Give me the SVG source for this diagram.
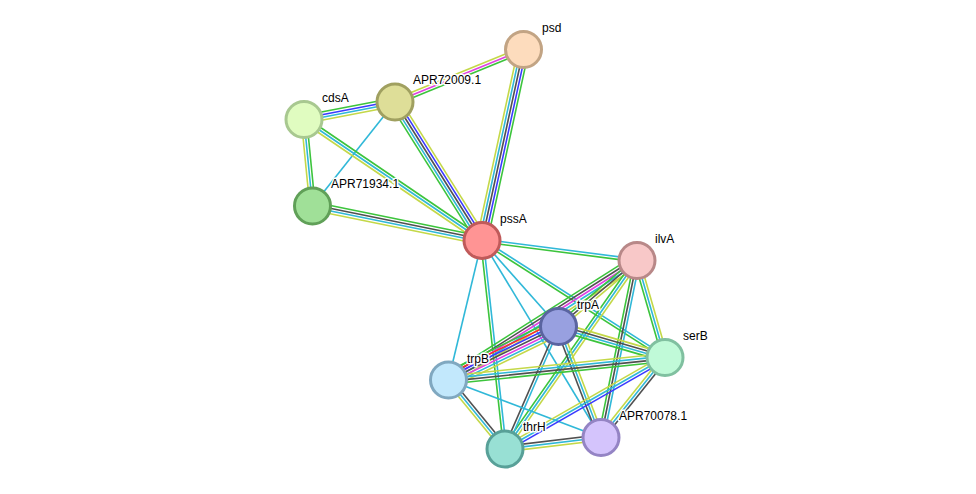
<svg xmlns="http://www.w3.org/2000/svg" width="976" height="494" viewBox="0 0 976 494">
<style>
line{stroke-width:1.6;fill:none}
.G{stroke:#3cc43c}.B{stroke:#3a3aff}.C{stroke:#30b8d8}.Y{stroke:#c4d848}.K{stroke:#505050}.M{stroke:#e040e0}.R{stroke:#ff2a2a}
.n circle{stroke-width:3}
.n text{font-family:"Liberation Sans",Arial,sans-serif;font-size:12px;fill:#000;stroke:#fff;stroke-width:3;paint-order:stroke;stroke-linejoin:round}
</style>
<rect width="976" height="494" fill="#fff"/>
<g id="connectors">
<g transform="translate(523.5,49.5) rotate(157.78)"><line class="Y" x2="138.8" y1="2.7" y2="2.7"/><line class="M" x2="138.8"/><line class="G" x2="138.8" y1="-2.7" y2="-2.7"/></g>
<g transform="translate(523.5,49.5) rotate(102.26)"><line class="Y" x2="195.5" y1="5.4" y2="5.4"/><line class="C" x2="195.5" y1="2.7" y2="2.7"/><line class="K" x2="195.5"/><line class="B" x2="195.5" y1="-2.7" y2="-2.7"/><line class="G" x2="195.5" y1="-5.4" y2="-5.4"/></g>
<g transform="translate(395,102) rotate(169.11)"><line class="G" x2="92.7" y1="4.05" y2="4.05"/><line class="B" x2="92.7" y1="1.35" y2="1.35"/><line class="C" x2="92.7" y1="-1.35" y2="-1.35"/><line class="Y" x2="92.7" y1="-4.05" y2="-4.05"/></g>
<g transform="translate(395,102) rotate(57.87)"><line class="G" x2="163.6" y1="5.4" y2="5.4"/><line class="C" x2="163.6" y1="2.7" y2="2.7"/><line class="K" x2="163.6"/><line class="B" x2="163.6" y1="-2.7" y2="-2.7"/><line class="Y" x2="163.6" y1="-5.4" y2="-5.4"/></g>
<g transform="translate(395,102) rotate(128.42)"><line class="C" x2="132.7"/></g>
<g transform="translate(304,119.5) rotate(84.39)"><line class="Y" x2="86.9" y1="2.7" y2="2.7"/><line class="C" x2="86.9"/><line class="G" x2="86.9" y1="-2.7" y2="-2.7"/></g>
<g transform="translate(304,119.5) rotate(34.21)"><line class="G" x2="215.2" y1="-2.7" y2="-2.7"/><line class="C" x2="215.2"/><line class="Y" x2="215.2" y1="2.7" y2="2.7"/></g>
<g transform="translate(312.5,206) rotate(11.5)"><line class="G" x2="173" y1="-4.05" y2="-4.05"/><line class="K" x2="173" y1="-1.35" y2="-1.35"/><line class="C" x2="173" y1="1.35" y2="1.35"/><line class="Y" x2="173" y1="4.05" y2="4.05"/></g>
<g transform="translate(482,240.5) rotate(7.35)"><line class="C" x2="156.3" y1="-1.35" y2="-1.35"/><line class="G" x2="156.3" y1="1.35" y2="1.35"/></g>
<g transform="translate(482,240.5) rotate(48.34)"><line class="C" x2="115.1"/></g>
<g transform="translate(482,240.5) rotate(32.59)"><line class="C" x2="217.2" y1="-1.35" y2="-1.35"/><line class="G" x2="217.2" y1="1.35" y2="1.35"/></g>
<g transform="translate(482,240.5) rotate(58.87)"><line class="C" x2="230.1"/></g>
<g transform="translate(482,240.5) rotate(83.71)"><line class="G" x2="209.8" y1="1.35" y2="1.35"/><line class="C" x2="209.8" y1="-1.35" y2="-1.35"/></g>
<g transform="translate(482,240.5) rotate(103.5)"><line class="C" x2="143.5"/></g>
<g transform="translate(637,260.5) rotate(147.62)"><line class="G" x2="223.2" y1="5.4" y2="5.4"/><line class="K" x2="223.2" y1="2.7" y2="2.7"/><line class="M" x2="223.2"/><line class="C" x2="223.2" y1="-2.7" y2="-2.7"/><line class="Y" x2="223.2" y1="-5.4" y2="-5.4"/></g>
<g transform="translate(558.5,326.5) rotate(154.06)"><line class="G" x2="122.3" y1="8.1" y2="8.1"/><line class="R" x2="122.3" y1="5.4" y2="5.4"/><line class="B" x2="122.3" y1="2.7" y2="2.7"/><line class="K" x2="122.3"/><line class="M" x2="122.3" y1="-2.7" y2="-2.7"/><line class="C" x2="122.3" y1="-5.4" y2="-5.4"/><line class="Y" x2="122.3" y1="-8.1" y2="-8.1"/></g>
<g transform="translate(637,260.5) rotate(139.94)"><line class="G" x2="102.6" y1="2.7" y2="2.7"/><line class="K" x2="102.6"/><line class="Y" x2="102.6" y1="-2.7" y2="-2.7"/></g>
<g transform="translate(637,260.5) rotate(73.9)"><line class="G" x2="101" y1="2.7" y2="2.7"/><line class="C" x2="101"/><line class="Y" x2="101" y1="-2.7" y2="-2.7"/></g>
<g transform="translate(637,260.5) rotate(101.5)"><line class="G" x2="180.6" y1="2.7" y2="2.7"/><line class="K" x2="180.6"/><line class="C" x2="180.6" y1="-2.7" y2="-2.7"/></g>
<g transform="translate(637,260.5) rotate(125)"><line class="G" x2="230.1" y1="2.7" y2="2.7"/><line class="C" x2="230.1"/><line class="Y" x2="230.1" y1="-2.7" y2="-2.7"/></g>
<g transform="translate(558.5,326.5) rotate(16.23)"><line class="Y" x2="110.9" y1="-4.05" y2="-4.05"/><line class="K" x2="110.9" y1="-1.35" y2="-1.35"/><line class="C" x2="110.9" y1="1.35" y2="1.35"/><line class="G" x2="110.9" y1="4.05" y2="4.05"/></g>
<g transform="translate(558.5,326.5) rotate(113.59)"><line class="K" x2="133.7" y1="1.35" y2="1.35"/><line class="C" x2="133.7" y1="-1.35" y2="-1.35"/></g>
<g transform="translate(558.5,326.5) rotate(69.05)"><line class="K" x2="118.9" y1="2.7" y2="2.7"/><line class="C" x2="118.9"/><line class="Y" x2="118.9" y1="-2.7" y2="-2.7"/></g>
<g transform="translate(448.5,380) rotate(-5.93)"><line class="Y" x2="217.7" y1="-4.05" y2="-4.05"/><line class="C" x2="217.7" y1="-1.35" y2="-1.35"/><line class="K" x2="217.7" y1="1.35" y2="1.35"/><line class="G" x2="217.7" y1="4.05" y2="4.05"/></g>
<g transform="translate(448.5,380) rotate(50.69)"><line class="Y" x2="89.2" y1="2.7" y2="2.7"/><line class="C" x2="89.2"/><line class="K" x2="89.2" y1="-2.7" y2="-2.7"/></g>
<g transform="translate(448.5,380) rotate(20.66)"><line class="C" x2="163"/></g>
<g transform="translate(665,357.5) rotate(150.24)"><line class="Y" x2="184.3" y1="2.7" y2="2.7"/><line class="C" x2="184.3"/><line class="B" x2="184.3" y1="-2.7" y2="-2.7"/></g>
<g transform="translate(665,357.5) rotate(128.66)"><line class="Y" x2="102.4" y1="2.7" y2="2.7"/><line class="C" x2="102.4"/><line class="K" x2="102.4" y1="-2.7" y2="-2.7"/></g>
<g transform="translate(505,449) rotate(-6.83)"><line class="K" x2="96.7" y1="-2.7" y2="-2.7"/><line class="C" x2="96.7"/><line class="Y" x2="96.7" y1="2.7" y2="2.7"/></g>
</g>
<g id="psd" class="n"><circle cx="523.5" cy="49.5" r="18" fill="#fddcbd" stroke="#c2a484"/><text x="542" y="32">psd</text></g>
<g id="APR72009.1" class="n"><circle cx="395" cy="102" r="18" fill="#dede98" stroke="#a0a060"/><text x="413" y="84">APR72009.1</text></g>
<g id="cdsA" class="n"><circle cx="304" cy="119.5" r="18" fill="#e0fcc0" stroke="#a8c890"/><text x="322" y="102">cdsA</text></g>
<g id="APR71934.1" class="n"><circle cx="312.5" cy="206" r="18" fill="#a0e098" stroke="#60a058"/><text x="331" y="188">APR71934.1</text></g>
<g id="pssA" class="n"><circle cx="482" cy="240.5" r="18" fill="#ff9494" stroke="#c05a5a"/><text x="500" y="223">pssA</text></g>
<g id="ilvA" class="n"><circle cx="637" cy="260.5" r="18" fill="#f8c8c8" stroke="#b88888"/><text x="655" y="243">ilvA</text></g>
<g id="trpA" class="n"><circle cx="558.5" cy="326.5" r="18" fill="#98a0e0" stroke="#5a64a0"/><text x="577" y="309">trpA</text></g>
<g id="serB" class="n"><circle cx="665" cy="357.5" r="18" fill="#c0fad8" stroke="#80c0a0"/><text x="683" y="340">serB</text></g>
<g id="trpB" class="n"><circle cx="448.5" cy="380" r="18" fill="#c2e8fc" stroke="#80a8c0"/><text x="467" y="363">trpB</text></g>
<g id="thrH" class="n"><circle cx="505" cy="449" r="18" fill="#98e0d4" stroke="#58a098"/><text x="523" y="431">thrH</text></g>
<g id="APR70078.1" class="n"><circle cx="601" cy="437.5" r="18" fill="#d4c4fc" stroke="#9484c4"/><text x="619" y="420">APR70078.1</text></g>
</svg>
